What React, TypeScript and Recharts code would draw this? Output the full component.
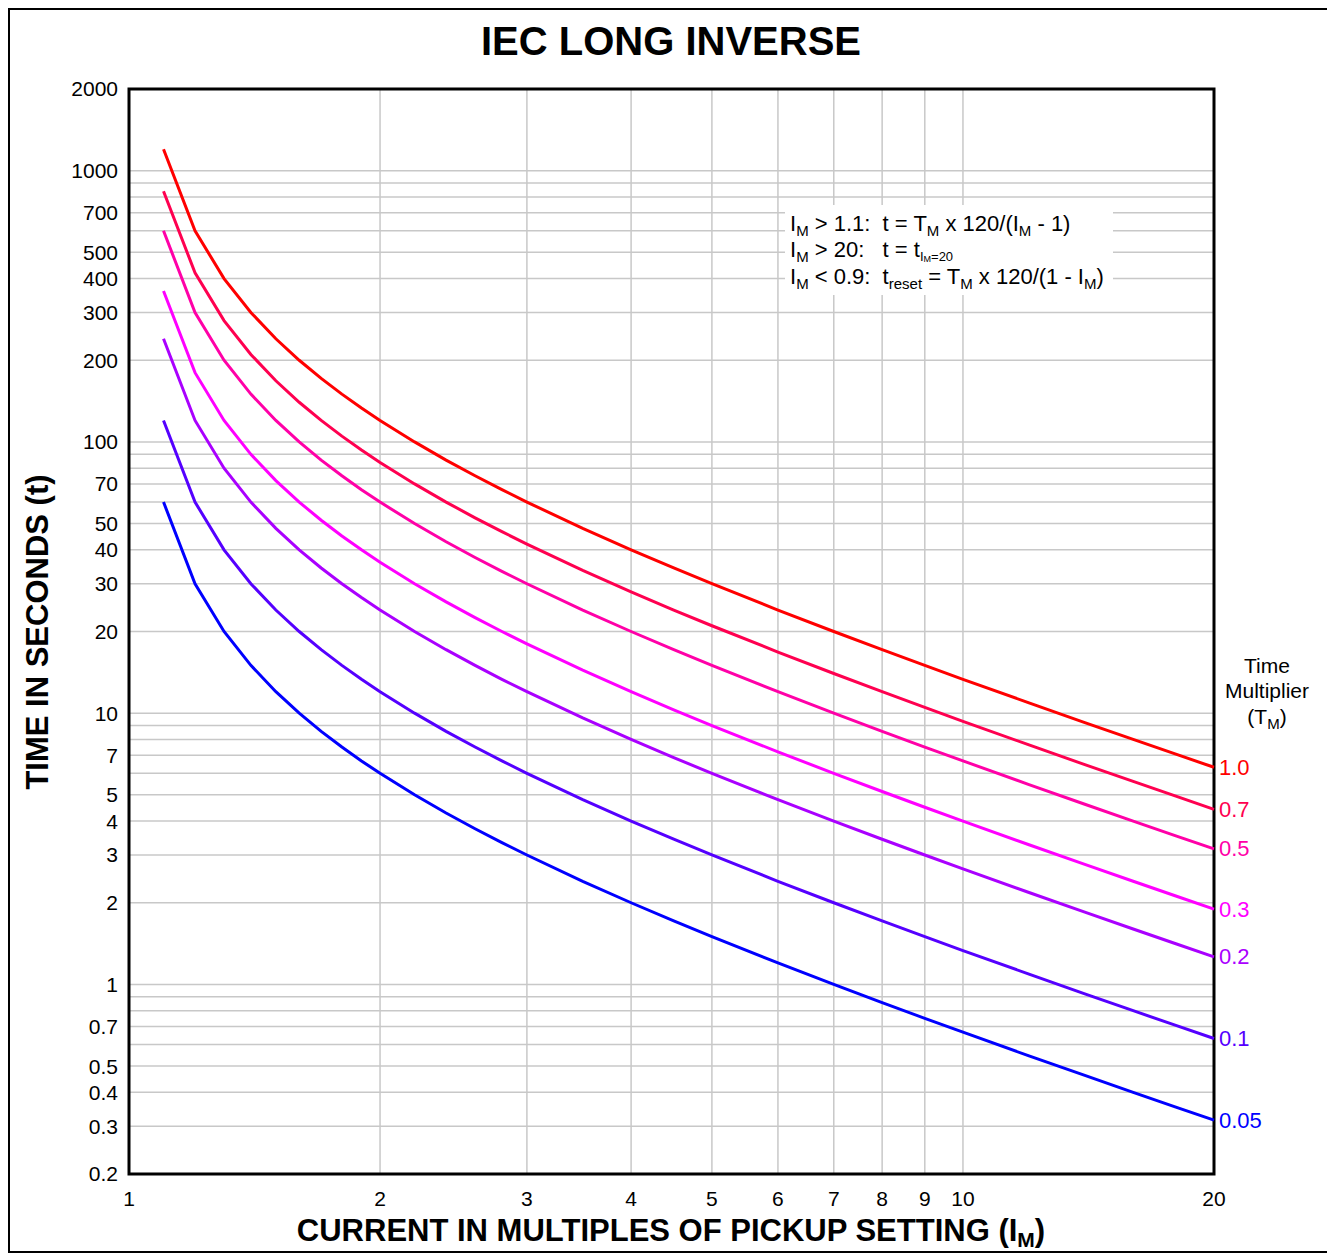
import { LineChart, Line, XAxis, YAxis, CartesianGrid, ReferenceArea } from "recharts";

// current in multiples of pickup (IM)
const CURRENT = [
  1.1, 1.2, 1.3, 1.4, 1.5, 1.6, 1.7, 1.8, 1.9, 2.0, 2.2, 2.4, 2.6, 2.8, 3, 3.5, 4, 4.5, 5, 6, 7, 8, 9, 10, 12,
  14, 16, 18, 20,
];

// trip time in seconds for each time multiplier
const TM_1_0 = [
  1200, 600, 400, 300, 240, 200, 171.4, 150, 133.3, 120, 100, 85.71, 75, 66.67, 60, 48, 40, 34.29, 30, 24, 20,
  17.14, 15, 13.33, 10.91, 9.231, 8, 7.059, 6.316,
];
const TM_0_7 = [
  840, 420, 280, 210, 168, 140, 120, 105, 93.33, 84, 70, 60, 52.5, 46.67, 42, 33.6, 28, 24, 21, 16.8, 14, 12,
  10.5, 9.333, 7.636, 6.462, 5.6, 4.941, 4.421,
];
const TM_0_5 = [
  600, 300, 200, 150, 120, 100, 85.71, 75, 66.67, 60, 50, 42.86, 37.5, 33.33, 30, 24, 20, 17.14, 15, 12, 10,
  8.571, 7.5, 6.667, 5.455, 4.615, 4, 3.529, 3.158,
];
const TM_0_3 = [
  360, 180, 120, 90, 72, 60, 51.43, 45, 40, 36, 30, 25.71, 22.5, 20, 18, 14.4, 12, 10.29, 9, 7.2, 6, 5.143, 4.5,
  4, 3.273, 2.769, 2.4, 2.118, 1.895,
];
const TM_0_2 = [
  240, 120, 80, 60, 48, 40, 34.29, 30, 26.67, 24, 20, 17.14, 15, 13.33, 12, 9.6, 8, 6.857, 6, 4.8, 4, 3.429, 3,
  2.667, 2.182, 1.846, 1.6, 1.412, 1.263,
];
const TM_0_1 = [
  120, 60, 40, 30, 24, 20, 17.14, 15, 13.33, 12, 10, 8.571, 7.5, 6.667, 6, 4.8, 4, 3.429, 3, 2.4, 2, 1.714, 1.5,
  1.333, 1.091, 0.923, 0.8, 0.706, 0.632,
];
const TM_0_05 = [
  60, 30, 20, 15, 12, 10, 8.571, 7.5, 6.667, 6, 5, 4.286, 3.75, 3.333, 3, 2.4, 2, 1.714, 1.5, 1.2, 1, 0.857,
  0.75, 0.667, 0.545, 0.462, 0.4, 0.353, 0.316,
];

const X_TICKS = [1, 2, 3, 4, 5, 6, 7, 8, 9, 10, 20];
const Y_GRID = [
  0.2, 0.3, 0.4, 0.5, 0.6, 0.7, 0.8, 0.9, 1, 2, 3, 4, 5, 6, 7, 8, 9, 10, 20, 30, 40, 50, 60, 70, 80, 90, 100, 200,
  300, 400, 500, 600, 700, 800, 900, 1000, 2000,
];
const Y_LABELS = [
  0.2, 0.3, 0.4, 0.5, 0.7, 1, 2, 3, 4, 5, 7, 10, 20, 30, 40, 50, 70, 100, 200, 300, 400, 500, 700, 1000, 2000,
];

const SERIES = [
  { key: "tm10", label: "1.0", color: "#ff0000", values: TM_1_0 },
  { key: "tm07", label: "0.7", color: "#ff0050", values: TM_0_7 },
  { key: "tm05", label: "0.5", color: "#ff00a8", values: TM_0_5 },
  { key: "tm03", label: "0.3", color: "#ff00ff", values: TM_0_3 },
  { key: "tm02", label: "0.2", color: "#aa00ff", values: TM_0_2 },
  { key: "tm01", label: "0.1", color: "#5500ff", values: TM_0_1 },
  { key: "tm005", label: "0.05", color: "#0000ff", values: TM_0_05 },
];

const rows = CURRENT.map((x, i) => {
  const row: Record<string, number> = { x };
  SERIES.forEach((s) => (row[s.key] = s.values[i]));
  return row;
});

const FONT = "'Liberation Sans', Arial, Helvetica, sans-serif";
const W = 1321;
const H = 1241;

function endLabel(text: string, color: string) {
  return (p: any) => {
    if (p.index !== CURRENT.length - 1) return <g />;
    return (
      <text x={p.x + 5} y={p.y} fill={color} fontSize={22} fontFamily={FONT} dominantBaseline="central">
        {text}
      </text>
    );
  };
}

const sub = { fontSize: 15 };

export default function App() {
  return (
    <div
      style={{
        position: "relative",
        width: 1325,
        height: 1245,
        border: "2px solid #000",
        boxSizing: "border-box",
        background: "#fff",
        fontFamily: FONT,
      }}
    >
      <LineChart width={W} height={H} data={rows} margin={{ top: 79, right: 117, bottom: 37, left: 19 }}>
        <CartesianGrid stroke="#c8c8c8" strokeWidth={1.5} />
        <XAxis
          dataKey="x"
          type="number"
          scale="log"
          domain={[1, 20]}
          ticks={X_TICKS}
          interval={0}
          axisLine={false}
          tickLine={false}
          tickMargin={11}
          height={40}
          tick={{ fill: "#000", fontSize: 21, fontFamily: FONT }}
        />
        <YAxis
          type="number"
          scale="log"
          domain={[0.2, 2000]}
          ticks={Y_GRID}
          interval={0}
          axisLine={false}
          tickLine={false}
          tickMargin={5}
          width={100}
          tick={{ fill: "#000", fontSize: 21, fontFamily: FONT }}
          tickFormatter={(v: number) => (Y_LABELS.includes(v) ? String(v) : "")}
        />
        {SERIES.map((s) => (
          <Line
            key={s.key}
            dataKey={s.key}
            type="linear"
            stroke={s.color}
            strokeWidth={3}
            dot={false}
            isAnimationActive={false}
            label={endLabel(s.label, s.color)}
          />
        ))}
        <ReferenceArea x1={1} x2={20} y1={0.2} y2={2000} fill="none" stroke="#000" strokeWidth={3} ifOverflow="visible" />
      </LineChart>
      <svg width={W} height={H} style={{ position: "absolute", left: 0, top: 0 }} fontFamily={FONT}>
        <text x={661} y={45} textAnchor="middle" fontSize={40} fontWeight="bold">
          IEC LONG INVERSE
        </text>
        <text x={661} y={1231} textAnchor="middle" fontSize={31} fontWeight="bold">
          CURRENT IN MULTIPLES OF PICKUP SETTING (I
          <tspan fontSize={21} dy={6}>
            M
          </tspan>
          <tspan dy={-6}>)</tspan>
        </text>
        <text x={38} y={622} textAnchor="middle" fontSize={31} fontWeight="bold" transform="rotate(-90 38 622)">
          TIME IN SECONDS (t)
        </text>
        <rect x={775} y={195} width={328} height={90} fill="#fff" />
        <g fontSize={22} style={{ whiteSpace: "pre" }}>
          <text x={780} y={221} xmlSpace="preserve">
            I<tspan style={sub} dy={5}>M</tspan>
            <tspan dy={-5}>{" > 1.1:  t = T"}</tspan>
            <tspan style={sub} dy={5}>M</tspan>
            <tspan dy={-5}>{" x 120/(I"}</tspan>
            <tspan style={sub} dy={5}>M</tspan>
            <tspan dy={-5}>{" - 1)"}</tspan>
          </text>
          <text x={780} y={247} xmlSpace="preserve">
            I<tspan style={sub} dy={5}>M</tspan>
            <tspan dy={-5}>{" > 20:   t = t"}</tspan>
            <tspan style={{ fontSize: 13 }} dy={4}>I</tspan>
            <tspan style={{ fontSize: 9 }} dy={1}>M</tspan>
            <tspan style={{ fontSize: 13 }} dy={-1}>=20</tspan>
          </text>
          <text x={780} y={274} xmlSpace="preserve">
            I<tspan style={sub} dy={5}>M</tspan>
            <tspan dy={-5}>{" < 0.9:  t"}</tspan>
            <tspan style={sub} dy={5}>reset</tspan>
            <tspan dy={-5}>{" = T"}</tspan>
            <tspan style={sub} dy={5}>M</tspan>
            <tspan dy={-5}>{" x 120/(1 - I"}</tspan>
            <tspan style={sub} dy={5}>M</tspan>
            <tspan dy={-5}>)</tspan>
          </text>
        </g>
        <g fontSize={21} textAnchor="middle">
          <text x={1257} y={663}>Time</text>
          <text x={1257} y={688}>Multiplier</text>
          <text x={1257} y={714}>
            (T<tspan style={sub} dy={5}>M</tspan>
            <tspan dy={-5}>)</tspan>
          </text>
        </g>
      </svg>
    </div>
  );
}
